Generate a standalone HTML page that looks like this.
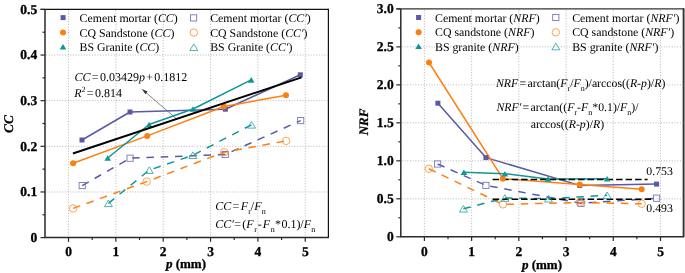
<!DOCTYPE html><html><head><meta charset="utf-8"><style>html,body{margin:0;padding:0;background:#fff;width:685px;height:273px;overflow:hidden}svg{display:block;text-rendering:geometricPrecision;will-change:transform}text{font-family:"Liberation Serif",serif}</style></head><body>
<svg width="685" height="273" viewBox="0 0 685 273">
<rect width="685" height="273" fill="#fff"/>
<line x1="68.50" y1="10.40" x2="68.50" y2="236.60" stroke="#a4a4a4" stroke-width="0.8" stroke-dasharray="1 1.7"/>
<line x1="115.85" y1="10.40" x2="115.85" y2="236.60" stroke="#a4a4a4" stroke-width="0.8" stroke-dasharray="1 1.7"/>
<line x1="163.20" y1="10.40" x2="163.20" y2="236.60" stroke="#a4a4a4" stroke-width="0.8" stroke-dasharray="1 1.7"/>
<line x1="210.55" y1="10.40" x2="210.55" y2="236.60" stroke="#a4a4a4" stroke-width="0.8" stroke-dasharray="1 1.7"/>
<line x1="257.90" y1="10.40" x2="257.90" y2="236.60" stroke="#a4a4a4" stroke-width="0.8" stroke-dasharray="1 1.7"/>
<line x1="305.25" y1="10.40" x2="305.25" y2="236.60" stroke="#a4a4a4" stroke-width="0.8" stroke-dasharray="1 1.7"/>
<line x1="46.00" y1="191.96" x2="327.40" y2="191.96" stroke="#a4a4a4" stroke-width="0.8" stroke-dasharray="1 1.7"/>
<line x1="46.00" y1="146.32" x2="327.40" y2="146.32" stroke="#a4a4a4" stroke-width="0.8" stroke-dasharray="1 1.7"/>
<line x1="46.00" y1="100.68" x2="327.40" y2="100.68" stroke="#a4a4a4" stroke-width="0.8" stroke-dasharray="1 1.7"/>
<line x1="46.00" y1="55.04" x2="327.40" y2="55.04" stroke="#a4a4a4" stroke-width="0.8" stroke-dasharray="1 1.7"/>
<line x1="424.40" y1="9.90" x2="424.40" y2="235.80" stroke="#a4a4a4" stroke-width="0.8" stroke-dasharray="1 1.7"/>
<line x1="471.62" y1="9.90" x2="471.62" y2="235.80" stroke="#a4a4a4" stroke-width="0.8" stroke-dasharray="1 1.7"/>
<line x1="518.84" y1="9.90" x2="518.84" y2="235.80" stroke="#a4a4a4" stroke-width="0.8" stroke-dasharray="1 1.7"/>
<line x1="566.06" y1="9.90" x2="566.06" y2="235.80" stroke="#a4a4a4" stroke-width="0.8" stroke-dasharray="1 1.7"/>
<line x1="613.28" y1="9.90" x2="613.28" y2="235.80" stroke="#a4a4a4" stroke-width="0.8" stroke-dasharray="1 1.7"/>
<line x1="660.50" y1="9.90" x2="660.50" y2="235.80" stroke="#a4a4a4" stroke-width="0.8" stroke-dasharray="1 1.7"/>
<line x1="401.80" y1="198.82" x2="682.60" y2="198.82" stroke="#a4a4a4" stroke-width="0.8" stroke-dasharray="1 1.7"/>
<line x1="401.80" y1="160.83" x2="682.60" y2="160.83" stroke="#a4a4a4" stroke-width="0.8" stroke-dasharray="1 1.7"/>
<line x1="401.80" y1="122.85" x2="682.60" y2="122.85" stroke="#a4a4a4" stroke-width="0.8" stroke-dasharray="1 1.7"/>
<line x1="401.80" y1="84.87" x2="682.60" y2="84.87" stroke="#a4a4a4" stroke-width="0.8" stroke-dasharray="1 1.7"/>
<line x1="401.80" y1="46.88" x2="682.60" y2="46.88" stroke="#a4a4a4" stroke-width="0.8" stroke-dasharray="1 1.7"/>
<g font-size="11.85" fill="#000">
<text x="79.6" y="22">Cement mortar (<tspan font-style="italic">CC</tspan>)</text>
<text x="79.6" y="36.6">CQ Sandstone (<tspan font-style="italic">CC</tspan>)</text>
<text x="79.6" y="51.2">BS Granite (<tspan font-style="italic">CC</tspan>)</text>
<text x="210.2" y="22">Cement mortar (<tspan font-style="italic">CC′</tspan>)</text>
<text x="210.2" y="36.6">CQ Sandstone (<tspan font-style="italic">CC′</tspan>)</text>
<text x="210.2" y="51.2">BS Granite (<tspan font-style="italic">CC′</tspan>)</text>
</g>
<rect x="60.60" y="15.10" width="5.0" height="5.0" fill="#5a5aa4"/>
<circle cx="63.00" cy="32.40" r="3.0" fill="#ff7f0e"/>
<path d="M63.00 44.00L66.30 49.60L59.70 49.60Z" fill="#109696"/>
<rect x="190.50" y="14.80" width="6.2" height="6.2" fill="none" stroke="#7070b4" stroke-width="0.85"/>
<circle cx="193.80" cy="32.60" r="3.7" fill="none" stroke="#ff9232" stroke-width="0.85"/>
<path d="M193.80 43.90L197.80 50.50L189.80 50.50Z" fill="none" stroke="#30a6a6" stroke-width="0.85" stroke-linejoin="miter"/>
<g font-size="12" fill="#000">
<text x="74.5" y="81.1"><tspan font-style="italic">CC</tspan><tspan dx="1.3">=</tspan><tspan dx="1.3">0.03429</tspan><tspan font-style="italic">p</tspan><tspan dx="1.3">+</tspan><tspan dx="1.3">0.1812</tspan></text>
<text x="74.2" y="97.3"><tspan font-style="italic">R</tspan><tspan font-size="8" dy="-5.5">2</tspan><tspan dy="5.5" dx="1.3">=</tspan><tspan dx="1.3">0.814</tspan></text>
<text x="215.2" y="210.3"><tspan font-style="italic">CC</tspan><tspan dx="1.3">=</tspan><tspan dx="1.5" font-style="italic">F</tspan><tspan font-size="8" dy="4" dx="0">r</tspan><tspan dy="-4" dx="0">/</tspan><tspan font-style="italic">F</tspan><tspan font-size="8" dy="4" dx="0.2">n</tspan></text>
<text x="215.2" y="228.4"><tspan font-style="italic">CC′</tspan><tspan dx="0.4">=</tspan><tspan dx="1.3">(</tspan><tspan font-style="italic">F</tspan><tspan font-size="8" dy="4" dx="0.5">r</tspan><tspan dy="-4" dx="1.0">-</tspan><tspan dx="1.0" font-style="italic">F</tspan><tspan font-size="8" dy="4" dx="0.5">n</tspan><tspan dy="-4" dx="0.4">*</tspan><tspan dx="0.3">0.1)/</tspan><tspan font-style="italic">F</tspan><tspan font-size="8" dy="4" dx="0.3">n</tspan></text>
</g>
<line x1="177" y1="119.3" x2="143.5" y2="90.5" stroke="#333" stroke-width="0.6"/>
<path d="M141.8 89 L147.6 91.6 L145.4 94.2 Z" fill="#333"/>
<path d="M82.20 185.60 L130.10 158.20 L225.20 154.50 L300.70 120.60" fill="none" stroke="#5a5aa4" stroke-width="1.5" stroke-dasharray="7.5 6.8" stroke-linejoin="round"/>
<path d="M73.10 208.40 L146.70 181.60 L224.20 152.20 L286.10 140.90" fill="none" stroke="#ff7f0e" stroke-width="1.5" stroke-dasharray="7.5 6.8" stroke-linejoin="round"/>
<path d="M108.40 203.30 L149.30 170.10 L192.90 155.20 L251.50 124.80" fill="none" stroke="#109696" stroke-width="1.5" stroke-dasharray="7.5 6.8" stroke-linejoin="round"/>
<rect x="79.10" y="182.50" width="6.2" height="6.2" fill="none" stroke="#7070b4" stroke-width="0.85"/>
<rect x="127.00" y="155.10" width="6.2" height="6.2" fill="none" stroke="#7070b4" stroke-width="0.85"/>
<rect x="222.10" y="151.40" width="6.2" height="6.2" fill="none" stroke="#7070b4" stroke-width="0.85"/>
<rect x="297.60" y="117.50" width="6.2" height="6.2" fill="none" stroke="#7070b4" stroke-width="0.85"/>
<circle cx="73.10" cy="208.40" r="3.7" fill="none" stroke="#ff9232" stroke-width="0.85"/>
<circle cx="146.70" cy="181.60" r="3.7" fill="none" stroke="#ff9232" stroke-width="0.85"/>
<circle cx="224.20" cy="152.20" r="3.7" fill="none" stroke="#ff9232" stroke-width="0.85"/>
<circle cx="286.10" cy="140.90" r="3.7" fill="none" stroke="#ff9232" stroke-width="0.85"/>
<path d="M108.40 200.00L112.40 206.60L104.40 206.60Z" fill="none" stroke="#30a6a6" stroke-width="0.85" stroke-linejoin="miter"/>
<path d="M149.30 166.80L153.30 173.40L145.30 173.40Z" fill="none" stroke="#30a6a6" stroke-width="0.85" stroke-linejoin="miter"/>
<path d="M192.90 151.90L196.90 158.50L188.90 158.50Z" fill="none" stroke="#30a6a6" stroke-width="0.85" stroke-linejoin="miter"/>
<path d="M251.50 121.50L255.50 128.10L247.50 128.10Z" fill="none" stroke="#30a6a6" stroke-width="0.85" stroke-linejoin="miter"/>
<path d="M82.00 140.00 L130.00 112.00 L225.40 109.20 L300.30 74.80" fill="none" stroke="#5a5aa4" stroke-width="1.5" stroke-linejoin="round"/>
<path d="M73.10 163.20 L147.20 135.90 L223.90 106.50 L286.00 95.20" fill="none" stroke="#ff7f0e" stroke-width="1.5" stroke-linejoin="round"/>
<path d="M107.70 158.00 L149.10 124.50 L193.00 109.00 L251.20 79.90" fill="none" stroke="#109696" stroke-width="1.5" stroke-linejoin="round"/>
<rect x="79.50" y="137.50" width="5.0" height="5.0" fill="#5a5aa4"/>
<rect x="127.50" y="109.50" width="5.0" height="5.0" fill="#5a5aa4"/>
<rect x="222.90" y="106.70" width="5.0" height="5.0" fill="#5a5aa4"/>
<rect x="297.80" y="72.30" width="5.0" height="5.0" fill="#5a5aa4"/>
<circle cx="73.10" cy="163.20" r="3.0" fill="#ff7f0e"/>
<circle cx="147.20" cy="135.90" r="3.0" fill="#ff7f0e"/>
<circle cx="223.90" cy="106.50" r="3.0" fill="#ff7f0e"/>
<circle cx="286.00" cy="95.20" r="3.0" fill="#ff7f0e"/>
<path d="M107.70 155.20L111.00 160.80L104.40 160.80Z" fill="#109696"/>
<path d="M149.10 121.70L152.40 127.30L145.80 127.30Z" fill="#109696"/>
<path d="M193.00 106.20L196.30 111.80L189.70 111.80Z" fill="#109696"/>
<path d="M251.20 77.10L254.50 82.70L247.90 82.70Z" fill="#109696"/>
<line x1="72.9" y1="153.5" x2="301.6" y2="77.3" stroke="#000" stroke-width="1.9"/>
<g font-size="11.85" fill="#000">
<text x="435" y="21.6">Cement mortar (<tspan font-style="italic">NRF</tspan>)</text>
<text x="435" y="36.4">CQ sandstone (<tspan font-style="italic">NRF</tspan>)</text>
<text x="435" y="50.6">BS granite (<tspan font-style="italic">NRF</tspan>)</text>
<text x="572.2" y="21.6">Cement mortar (<tspan font-style="italic">NRF′</tspan>)</text>
<text x="572.2" y="36.4">CQ sandstone (<tspan font-style="italic">NRF′</tspan>)</text>
<text x="572.2" y="50.6">BS granite (<tspan font-style="italic">NRF′</tspan>)</text>
</g>
<rect x="416.10" y="15.00" width="5.0" height="5.0" fill="#5a5aa4"/>
<circle cx="418.60" cy="32.30" r="3.0" fill="#ff7f0e"/>
<path d="M418.60 43.50L421.90 49.10L415.30 49.10Z" fill="#109696"/>
<rect x="552.70" y="14.40" width="6.2" height="6.2" fill="none" stroke="#7070b4" stroke-width="0.85"/>
<circle cx="555.80" cy="32.30" r="3.7" fill="none" stroke="#ff9232" stroke-width="0.85"/>
<path d="M555.80 43.20L559.80 49.80L551.80 49.80Z" fill="none" stroke="#30a6a6" stroke-width="0.85" stroke-linejoin="miter"/>
<g font-size="11.8" fill="#000">
<text x="496.0" y="87.4"><tspan font-style="italic">NRF</tspan><tspan dx="1.3">=</tspan><tspan dx="1.3">arctan(</tspan><tspan font-style="italic">F</tspan><tspan font-size="8" dy="4">r</tspan><tspan dy="-4">/</tspan><tspan font-style="italic">F</tspan><tspan font-size="8" dy="4">n</tspan><tspan dy="-4">)/arccos((</tspan><tspan font-style="italic">R</tspan>-<tspan font-style="italic">p</tspan>)/<tspan font-style="italic">R</tspan>)</text>
<text x="496.4" y="111.0"><tspan font-style="italic">NRF′</tspan><tspan dx="1.3">=</tspan><tspan dx="1.3">arctan((</tspan><tspan font-style="italic">F</tspan><tspan font-size="8" dy="4">r</tspan><tspan dy="-4">-</tspan><tspan font-style="italic">F</tspan><tspan font-size="8" dy="4">n</tspan><tspan dy="-4">*0.1)/</tspan><tspan font-style="italic">F</tspan><tspan font-size="8" dy="4">n</tspan><tspan dy="-4">)/</tspan></text>
<text x="530.7" y="127.7">arccos((<tspan font-style="italic">R</tspan>-<tspan font-style="italic">p</tspan>)/<tspan font-style="italic">R</tspan>)</text>
<text x="646.3" y="174.9">0.753</text>
<text x="646.3" y="211.5">0.493</text>
</g>
<path d="M437.60 164.00 L485.90 185.40 L581.00 203.30 L656.60 198.20" fill="none" stroke="#5a5aa4" stroke-width="1.5" stroke-dasharray="7.5 6.8" stroke-linejoin="round"/>
<path d="M428.80 168.70 L502.90 204.40 L579.70 202.50 L641.70 203.80" fill="none" stroke="#ff7f0e" stroke-width="1.5" stroke-dasharray="7.5 6.8" stroke-linejoin="round"/>
<path d="M463.40 208.80 L504.90 198.00 L548.50 198.70 L607.10 195.30" fill="none" stroke="#109696" stroke-width="1.5" stroke-dasharray="7.5 6.8" stroke-linejoin="round"/>
<line x1="492.6" y1="199.2" x2="652.5" y2="199.2" stroke="#000" stroke-width="1.5" stroke-dasharray="6.5 3"/>
<rect x="434.50" y="160.90" width="6.2" height="6.2" fill="none" stroke="#7070b4" stroke-width="0.85"/>
<rect x="482.80" y="182.30" width="6.2" height="6.2" fill="none" stroke="#7070b4" stroke-width="0.85"/>
<rect x="577.90" y="200.20" width="6.2" height="6.2" fill="none" stroke="#7070b4" stroke-width="0.85"/>
<rect x="653.50" y="195.10" width="6.2" height="6.2" fill="none" stroke="#7070b4" stroke-width="0.85"/>
<circle cx="428.80" cy="168.70" r="3.7" fill="none" stroke="#ff9232" stroke-width="0.85"/>
<circle cx="502.90" cy="204.40" r="3.7" fill="none" stroke="#ff9232" stroke-width="0.85"/>
<circle cx="579.70" cy="202.50" r="3.7" fill="none" stroke="#ff9232" stroke-width="0.85"/>
<circle cx="641.70" cy="203.80" r="3.7" fill="none" stroke="#ff9232" stroke-width="0.85"/>
<path d="M463.40 205.50L467.40 212.10L459.40 212.10Z" fill="none" stroke="#30a6a6" stroke-width="0.85" stroke-linejoin="miter"/>
<path d="M504.90 194.70L508.90 201.30L500.90 201.30Z" fill="none" stroke="#30a6a6" stroke-width="0.85" stroke-linejoin="miter"/>
<path d="M548.50 195.40L552.50 202.00L544.50 202.00Z" fill="none" stroke="#30a6a6" stroke-width="0.85" stroke-linejoin="miter"/>
<path d="M607.10 192.00L611.10 198.60L603.10 198.60Z" fill="none" stroke="#30a6a6" stroke-width="0.85" stroke-linejoin="miter"/>
<path d="M437.90 103.20 L485.90 157.60 L579.70 185.40 L656.60 184.10" fill="none" stroke="#5a5aa4" stroke-width="1.5" stroke-linejoin="round"/>
<path d="M429.00 62.50 L502.90 178.70 L579.70 184.60 L641.70 189.20" fill="none" stroke="#ff7f0e" stroke-width="1.5" stroke-linejoin="round"/>
<path d="M463.90 172.20 L504.90 173.70 L548.00 179.00 L607.10 178.70" fill="none" stroke="#109696" stroke-width="1.5" stroke-linejoin="round"/>
<line x1="492.6" y1="179.5" x2="647.6" y2="179.5" stroke="#000" stroke-width="1.5" stroke-dasharray="6.5 3"/>
<rect x="435.40" y="100.70" width="5.0" height="5.0" fill="#5a5aa4"/>
<rect x="483.40" y="155.10" width="5.0" height="5.0" fill="#5a5aa4"/>
<rect x="577.20" y="182.90" width="5.0" height="5.0" fill="#5a5aa4"/>
<rect x="654.10" y="181.60" width="5.0" height="5.0" fill="#5a5aa4"/>
<circle cx="429.00" cy="62.50" r="3.0" fill="#ff7f0e"/>
<circle cx="502.90" cy="178.70" r="3.0" fill="#ff7f0e"/>
<circle cx="579.70" cy="184.60" r="3.0" fill="#ff7f0e"/>
<circle cx="641.70" cy="189.20" r="3.0" fill="#ff7f0e"/>
<path d="M463.90 169.40L467.20 175.00L460.60 175.00Z" fill="#109696"/>
<path d="M504.90 170.90L508.20 176.50L501.60 176.50Z" fill="#109696"/>
<path d="M548.00 176.20L551.30 181.80L544.70 181.80Z" fill="#109696"/>
<path d="M607.10 175.90L610.40 181.50L603.80 181.50Z" fill="#109696"/>
<path d="M40.50 9.40H328.40" fill="none" stroke="#111" stroke-width="1.2"/>
<path d="M328.40 8.80V237.60" fill="none" stroke="#111" stroke-width="1.2"/>
<path d="M45.00 9.40V237.60H329.00" fill="none" stroke="#2a2a2a" stroke-width="1.5"/>
<line x1="40.50" y1="237.60" x2="45.00" y2="237.60" stroke="#2a2a2a" stroke-width="1.2"/>
<line x1="40.50" y1="191.96" x2="45.00" y2="191.96" stroke="#2a2a2a" stroke-width="1.2"/>
<line x1="40.50" y1="146.32" x2="45.00" y2="146.32" stroke="#2a2a2a" stroke-width="1.2"/>
<line x1="40.50" y1="100.68" x2="45.00" y2="100.68" stroke="#2a2a2a" stroke-width="1.2"/>
<line x1="40.50" y1="55.04" x2="45.00" y2="55.04" stroke="#2a2a2a" stroke-width="1.2"/>
<line x1="40.50" y1="9.40" x2="45.00" y2="9.40" stroke="#2a2a2a" stroke-width="1.2"/>
<line x1="42.50" y1="214.78" x2="45.00" y2="214.78" stroke="#2a2a2a" stroke-width="1.2"/>
<line x1="42.50" y1="169.14" x2="45.00" y2="169.14" stroke="#2a2a2a" stroke-width="1.2"/>
<line x1="42.50" y1="123.50" x2="45.00" y2="123.50" stroke="#2a2a2a" stroke-width="1.2"/>
<line x1="42.50" y1="77.86" x2="45.00" y2="77.86" stroke="#2a2a2a" stroke-width="1.2"/>
<line x1="42.50" y1="32.22" x2="45.00" y2="32.22" stroke="#2a2a2a" stroke-width="1.2"/>
<line x1="68.50" y1="237.60" x2="68.50" y2="241.80" stroke="#2a2a2a" stroke-width="1.2"/>
<line x1="115.85" y1="237.60" x2="115.85" y2="241.80" stroke="#2a2a2a" stroke-width="1.2"/>
<line x1="163.20" y1="237.60" x2="163.20" y2="241.80" stroke="#2a2a2a" stroke-width="1.2"/>
<line x1="210.55" y1="237.60" x2="210.55" y2="241.80" stroke="#2a2a2a" stroke-width="1.2"/>
<line x1="257.90" y1="237.60" x2="257.90" y2="241.80" stroke="#2a2a2a" stroke-width="1.2"/>
<line x1="305.25" y1="237.60" x2="305.25" y2="241.80" stroke="#2a2a2a" stroke-width="1.2"/>
<line x1="92.17" y1="237.60" x2="92.17" y2="240.00" stroke="#2a2a2a" stroke-width="1.2"/>
<line x1="139.53" y1="237.60" x2="139.53" y2="240.00" stroke="#2a2a2a" stroke-width="1.2"/>
<line x1="186.88" y1="237.60" x2="186.88" y2="240.00" stroke="#2a2a2a" stroke-width="1.2"/>
<line x1="234.22" y1="237.60" x2="234.22" y2="240.00" stroke="#2a2a2a" stroke-width="1.2"/>
<line x1="281.58" y1="237.60" x2="281.58" y2="240.00" stroke="#2a2a2a" stroke-width="1.2"/>
<path d="M396.30 8.90H683.60" fill="none" stroke="#333" stroke-width="1.4"/>
<path d="M683.60 8.20V236.80" fill="none" stroke="#333" stroke-width="1.9"/>
<path d="M400.80 8.90V236.80H684.20" fill="none" stroke="#2a2a2a" stroke-width="1.5"/>
<line x1="396.30" y1="236.80" x2="400.80" y2="236.80" stroke="#2a2a2a" stroke-width="1.2"/>
<line x1="396.30" y1="198.82" x2="400.80" y2="198.82" stroke="#2a2a2a" stroke-width="1.2"/>
<line x1="396.30" y1="160.83" x2="400.80" y2="160.83" stroke="#2a2a2a" stroke-width="1.2"/>
<line x1="396.30" y1="122.85" x2="400.80" y2="122.85" stroke="#2a2a2a" stroke-width="1.2"/>
<line x1="396.30" y1="84.87" x2="400.80" y2="84.87" stroke="#2a2a2a" stroke-width="1.2"/>
<line x1="396.30" y1="46.88" x2="400.80" y2="46.88" stroke="#2a2a2a" stroke-width="1.2"/>
<line x1="396.30" y1="8.90" x2="400.80" y2="8.90" stroke="#2a2a2a" stroke-width="1.2"/>
<line x1="398.30" y1="217.81" x2="400.80" y2="217.81" stroke="#2a2a2a" stroke-width="1.2"/>
<line x1="398.30" y1="179.83" x2="400.80" y2="179.83" stroke="#2a2a2a" stroke-width="1.2"/>
<line x1="398.30" y1="141.84" x2="400.80" y2="141.84" stroke="#2a2a2a" stroke-width="1.2"/>
<line x1="398.30" y1="103.86" x2="400.80" y2="103.86" stroke="#2a2a2a" stroke-width="1.2"/>
<line x1="398.30" y1="65.88" x2="400.80" y2="65.88" stroke="#2a2a2a" stroke-width="1.2"/>
<line x1="398.30" y1="27.89" x2="400.80" y2="27.89" stroke="#2a2a2a" stroke-width="1.2"/>
<line x1="424.40" y1="236.80" x2="424.40" y2="241.00" stroke="#2a2a2a" stroke-width="1.2"/>
<line x1="471.62" y1="236.80" x2="471.62" y2="241.00" stroke="#2a2a2a" stroke-width="1.2"/>
<line x1="518.84" y1="236.80" x2="518.84" y2="241.00" stroke="#2a2a2a" stroke-width="1.2"/>
<line x1="566.06" y1="236.80" x2="566.06" y2="241.00" stroke="#2a2a2a" stroke-width="1.2"/>
<line x1="613.28" y1="236.80" x2="613.28" y2="241.00" stroke="#2a2a2a" stroke-width="1.2"/>
<line x1="660.50" y1="236.80" x2="660.50" y2="241.00" stroke="#2a2a2a" stroke-width="1.2"/>
<line x1="448.01" y1="236.80" x2="448.01" y2="239.20" stroke="#2a2a2a" stroke-width="1.2"/>
<line x1="495.23" y1="236.80" x2="495.23" y2="239.20" stroke="#2a2a2a" stroke-width="1.2"/>
<line x1="542.45" y1="236.80" x2="542.45" y2="239.20" stroke="#2a2a2a" stroke-width="1.2"/>
<line x1="589.67" y1="236.80" x2="589.67" y2="239.20" stroke="#2a2a2a" stroke-width="1.2"/>
<line x1="636.89" y1="236.80" x2="636.89" y2="239.20" stroke="#2a2a2a" stroke-width="1.2"/>
<g font-size="13.5" font-weight="bold" fill="#000" stroke="#000" stroke-width="0.3" text-anchor="end">
<text x="37.2" y="241.80">0</text>
<text x="37.2" y="196.16">0.1</text>
<text x="37.2" y="150.52">0.2</text>
<text x="37.2" y="104.88">0.3</text>
<text x="37.2" y="59.24">0.4</text>
<text x="37.2" y="13.60">0.5</text>
<text x="393.7" y="241.00">0</text>
<text x="393.7" y="203.02">0.5</text>
<text x="393.7" y="165.03">1.0</text>
<text x="393.7" y="127.05">1.5</text>
<text x="393.7" y="89.07">2.0</text>
<text x="393.7" y="51.08">2.5</text>
<text x="393.7" y="13.10">3.0</text>
</g>
<g font-size="13.5" font-weight="bold" fill="#000" stroke="#000" stroke-width="0.3" text-anchor="middle">
<text x="68.50" y="255.7">0</text>
<text x="424.40" y="255.7">0</text>
<text x="115.85" y="255.7">1</text>
<text x="471.62" y="255.7">1</text>
<text x="163.20" y="255.7">2</text>
<text x="518.84" y="255.7">2</text>
<text x="210.55" y="255.7">3</text>
<text x="566.06" y="255.7">3</text>
<text x="257.90" y="255.7">4</text>
<text x="613.28" y="255.7">4</text>
<text x="305.25" y="255.7">5</text>
<text x="660.50" y="255.7">5</text>
</g>
<text x="186" y="268.4" font-size="13" font-weight="bold" fill="#000" stroke="#000" stroke-width="0.3" text-anchor="middle"><tspan font-style="italic">p</tspan> (mm)</text>
<text x="542" y="268.8" font-size="13" font-weight="bold" fill="#000" stroke="#000" stroke-width="0.3" text-anchor="middle"><tspan font-style="italic">p</tspan> (mm)</text>
<text transform="translate(12.9,124) rotate(-90)" font-size="13.3" font-weight="bold" font-style="italic" fill="#000" stroke="#000" stroke-width="0.25" text-anchor="middle">CC</text>
<text transform="translate(368.2,122) rotate(-90)" font-size="13" font-weight="bold" font-style="italic" fill="#000" stroke="#000" stroke-width="0.25" text-anchor="middle">NRF</text>
</svg></body></html>
